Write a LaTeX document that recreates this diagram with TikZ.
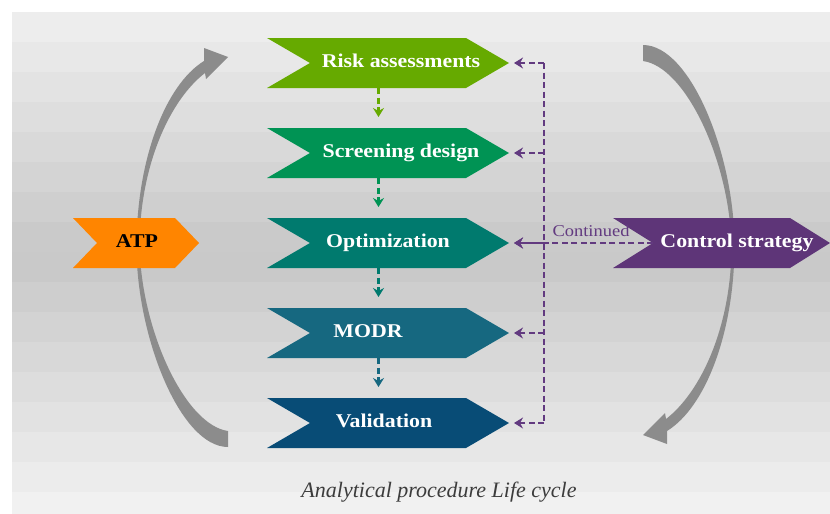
\documentclass[tikz,border=0pt]{standalone}
\usepackage{fontspec}
\setmainfont{Liberation Serif}
\newfontfamily\labelfont[FakeStretch=1.12]{Liberation Serif}
\usetikzlibrary{arrows.meta}

\definecolor{riskgreen}{RGB}{102,170,0}
\definecolor{screengreen}{RGB}{0,147,84}
\definecolor{optteal}{RGB}{0,122,110}
\definecolor{modrblue}{RGB}{22,104,128}
\definecolor{valblue}{RGB}{8,76,118}
\definecolor{atporange}{RGB}{255,133,0}
\definecolor{ctrlpurple}{RGB}{94,53,120}
\definecolor{fbpurple}{RGB}{98,58,128}
\definecolor{cyclegray}{RGB}{140,140,140}
\definecolor{captiongray}{RGB}{60,60,60}

% chevron: name, left x, tip x, centre y, notch/tip depth, colour
\newcommand\chevronshape[6]{%
  \fill[#6] (#2,#4-25) -- (#3-#5,#4-25) -- (#3,#4) -- (#3-#5,#4+25)
    -- (#2,#4+25) -- (#2+#5,#4) -- cycle;
  \node[chevbox, minimum width={#3-#2}] (#1) at ({(#2+#3)/2},#4) {};
}

\begin{document}
\begin{tikzpicture}[x=1pt,y=-1pt,
  chevbox/.style={minimum height=50pt, inner sep=0pt, outer sep=0pt},
  chevtext/.style={font=\labelfont\bfseries\fontsize{19.5}{22}\selectfont,
    text=white, inner sep=0pt, text height=13pt, text depth=4pt},
  flow/.style={line width=2.2pt, dash pattern=on 6pt off 3.5pt,
    -{Stealth[length=9pt,width=11pt,inset=3pt]}, shorten >=11pt},
  feedback/.style={draw=fbpurple, line width=2.2pt, dash pattern=on 6pt off 3.5pt},
  fbtip/.style={-{Stealth[length=9pt,width=11pt,inset=3pt]}, shorten >=5pt},
  cyclearrow/.style={fill=cyclegray}]

\useasboundingbox (0,0) rectangle (830,514);
\fill[white] (0,0) rectangle (830,514);

% banded grey backdrop
\foreach \i in {0,...,16}{
  \pgfmathsetmacro\yc{12+\i*30+15}
  \pgfmathsetmacro\g{0.78+0.16*abs(\yc-255)/245}
  \definecolor{bandc}{gray}{\g}
  \fill[bandc] (12,{12+\i*30}) rectangle (830,{min(514,42.5+\i*30)});
}

% curved cycle arrows (right one is the left one turned half a turn)
\def\cyclepath{(228,431) .. controls (185,425) and (141,330) .. (139.5,245)
  .. controls (140,165) and (170,100) .. (205,73)
  -- (206,79) -- (228,57) -- (204,48) -- (204,61)
  .. controls (165,85) and (137,160) .. (136.5,245)
  .. controls (136,335) and (180,447) .. (228,447) -- cycle}
\path[cyclearrow] \cyclepath;
\begin{scope}[rotate around={180:(435.5,246)}]
  \path[cyclearrow] \cyclepath;
\end{scope}

% process chevrons
\chevronshape{risk}{267}{509}{63}{43}{riskgreen}
\chevronshape{screen}{267}{509}{153}{43}{screengreen}
\chevronshape{opt}{267}{509}{243}{43}{optteal}
\chevronshape{modr}{267}{509}{333}{43}{modrblue}
\chevronshape{val}{267}{509}{423}{43}{valblue}
\chevronshape{atp}{73}{199}{243}{24}{atporange}
\chevronshape{ctrl}{613}{830}{243}{40}{ctrlpurple}

\node[chevtext] (risklabel) at (401,63) {Risk assessments};
\node[chevtext] (screenlabel) at (401,153) {Screening design};
\node[chevtext] (optlabel) at (388,243) {Optimization};
\node[chevtext] (modrlabel) at (368,333) {MODR};
\node[chevtext] (vallabel) at (384,423) {Validation};
\node[chevtext, text=black] (atplabel) at (137,243) {ATP};
\node[chevtext] (ctrllabel) at (737,243) {Control strategy};

% downward flow between stages
\draw[flow, riskgreen] ([xshift=-9.5pt]risk.south) -- ([xshift=-9.5pt]screen.north);
\draw[flow, screengreen] ([xshift=-9.5pt]screen.south) -- ([xshift=-9.5pt]opt.north);
\draw[flow, optteal] ([xshift=-9.5pt]opt.south) -- ([xshift=-9.5pt]modr.north);
\draw[flow, modrblue] ([xshift=-9.5pt]modr.south) -- ([xshift=-9.5pt]val.north);

% feedback bus from the control strategy
\coordinate (bus) at (544,0);
\draw[feedback] (risk.east -| bus) -- (val.east -| bus);
\foreach \n in {risk,screen,opt,modr,val}
  \draw[feedback, fbtip] (\n.east -| bus) -- (\n.east);
\draw[feedback, fbtip] ([xshift=40pt]ctrl.west) -- (opt.east);
\node[font=\labelfont\fontsize{16.5}{18}\selectfont, text=fbpurple, inner sep=0pt]
  (continued) at (591,231) {Continued};

\node[font=\fontsize{22}{24}\selectfont\itshape, text=captiongray, inner sep=0pt]
  (caption) at (439,492) {Analytical procedure Life cycle};
\end{tikzpicture}
\end{document}
